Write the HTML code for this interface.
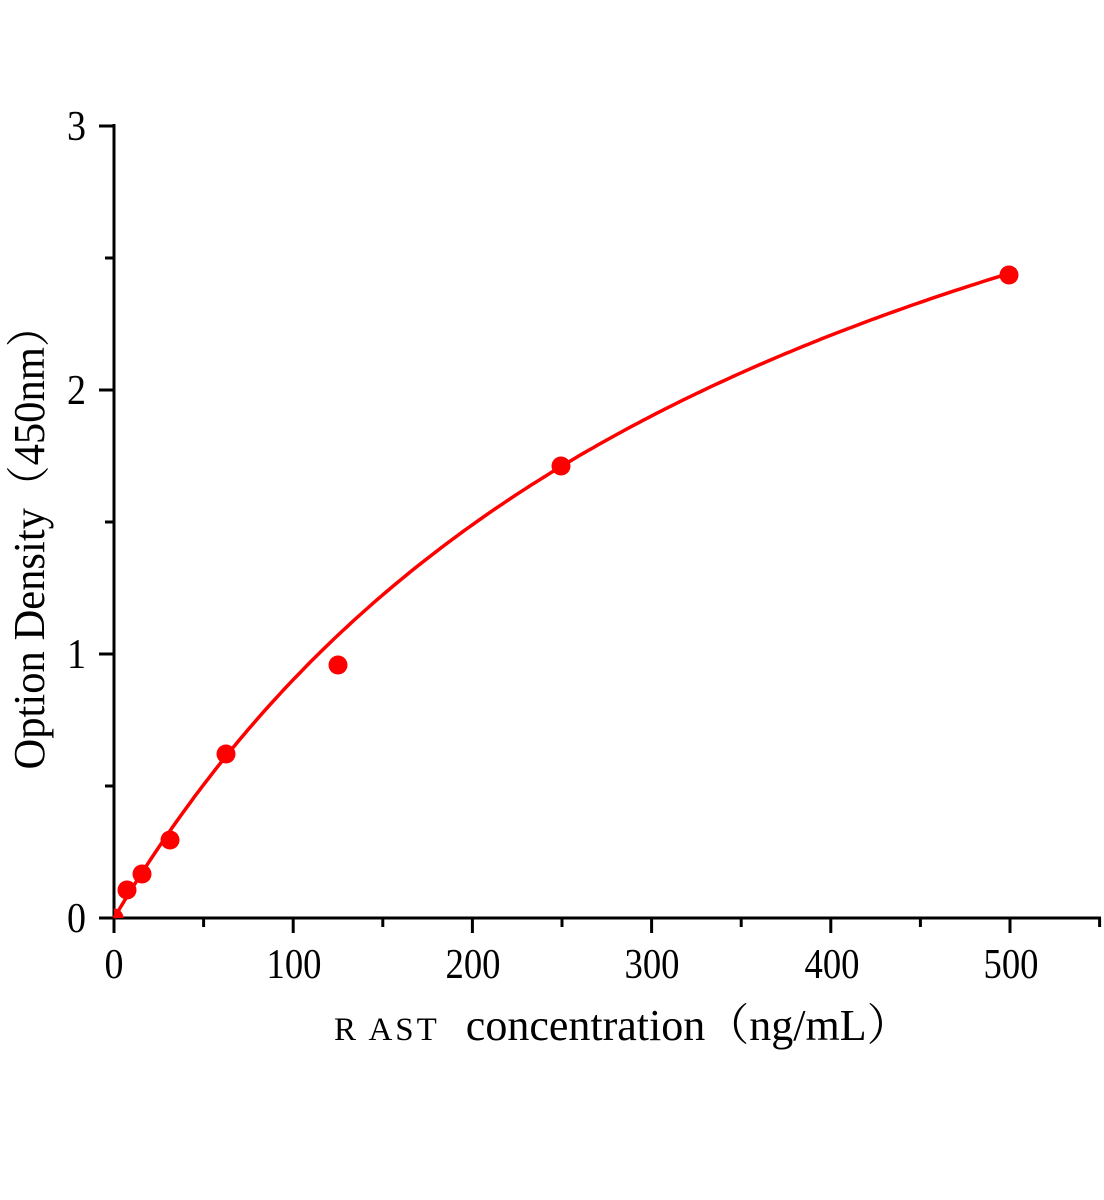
<!DOCTYPE html>
<html><head><meta charset="utf-8"><style>html,body{margin:0;padding:0;background:#fff}svg{display:block}</style></head>
<body>
<svg id="s" width="1104" height="1200" viewBox="0 0 1104 1200" xmlns="http://www.w3.org/2000/svg" font-family="Liberation Serif, serif">
<g stroke="#000" stroke-width="3" fill="none">
<line x1="114" y1="124" x2="114" y2="920"/>
<line x1="112" y1="918" x2="1101" y2="918"/>
<line x1="99" y1="126" x2="114" y2="126"/>
<line x1="105" y1="258" x2="114" y2="258"/>
<line x1="99" y1="390" x2="114" y2="390"/>
<line x1="105" y1="522" x2="114" y2="522"/>
<line x1="99" y1="654" x2="114" y2="654"/>
<line x1="105" y1="786" x2="114" y2="786"/>
<line x1="99" y1="918" x2="114" y2="918"/>
<line x1="114" y1="918" x2="114" y2="933"/>
<line x1="203.6" y1="918" x2="203.6" y2="927"/>
<line x1="293.2" y1="918" x2="293.2" y2="933"/>
<line x1="382.8" y1="918" x2="382.8" y2="927"/>
<line x1="472.4" y1="918" x2="472.4" y2="933"/>
<line x1="562" y1="918" x2="562" y2="927"/>
<line x1="651.6" y1="918" x2="651.6" y2="933"/>
<line x1="741.2" y1="918" x2="741.2" y2="927"/>
<line x1="830.8" y1="918" x2="830.8" y2="933"/>
<line x1="920.4" y1="918" x2="920.4" y2="927"/>
<line x1="1010" y1="918" x2="1010" y2="933"/>
<line x1="1099.6" y1="918" x2="1099.6" y2="927"/>
</g>
<g font-size="42" fill="#000" text-anchor="end">
<text x="86" y="140" textLength="19" lengthAdjust="spacingAndGlyphs">3</text>
<text x="86" y="404" textLength="19" lengthAdjust="spacingAndGlyphs">2</text>
<text x="86" y="668" textLength="19" lengthAdjust="spacingAndGlyphs">1</text>
<text x="86" y="932" textLength="19" lengthAdjust="spacingAndGlyphs">0</text>
</g>
<g font-size="42" fill="#000" text-anchor="middle">
<text x="114" y="978" textLength="19" lengthAdjust="spacingAndGlyphs">0</text>
<text x="294" y="978" textLength="55" lengthAdjust="spacingAndGlyphs">100</text>
<text x="473" y="978" textLength="55" lengthAdjust="spacingAndGlyphs">200</text>
<text x="652" y="978" textLength="55" lengthAdjust="spacingAndGlyphs">300</text>
<text x="832" y="978" textLength="55" lengthAdjust="spacingAndGlyphs">400</text>
<text x="1011" y="978" textLength="55" lengthAdjust="spacingAndGlyphs">500</text>
</g>
<text x="334" y="1040" font-size="44" fill="#000"><tspan font-size="33" letter-spacing="3">R AST</tspan><tspan dx="26">concentration</tspan><tspan font-family="Noto Serif CJK SC, serif">（</tspan>ng/mL<tspan font-family="Noto Serif CJK SC, serif">）</tspan></text>
<text transform="translate(44,537) rotate(-90)" text-anchor="middle" font-size="44" fill="#000" textLength="465" lengthAdjust="spacingAndGlyphs">Option Density<tspan font-family="Noto Serif CJK SC, serif">（</tspan>450nm<tspan font-family="Noto Serif CJK SC, serif">）</tspan></text>
<defs><clipPath id="c"><rect x="114" y="0" width="1000" height="918"/></clipPath></defs>
<path id="curve" fill="none" stroke="#f00" stroke-width="3.5" d=""/>
<g fill="#f00" clip-path="url(#c)">
<circle cx="114" cy="918" r="9.5"/>
<circle cx="127" cy="890" r="9.5"/>
<circle cx="142" cy="874" r="9.5"/>
<circle cx="170" cy="840" r="9.5"/>
<circle cx="226" cy="754" r="9.5"/>
<circle cx="338" cy="665" r="9.5"/>
<circle cx="561" cy="466" r="9.5"/>
<circle cx="1009" cy="275" r="9.5"/>
</g>
</svg>
<script>
var d="";for(var x=0;x<=500;x+=2.5){var y=4.26*x/(372+x);var X=114+1.792*x,Y=918-264*y;d+=(x?"L":"M")+X.toFixed(1)+","+Y.toFixed(1);}
document.getElementById("curve").setAttribute("d",d);
</script>
</body></html>
